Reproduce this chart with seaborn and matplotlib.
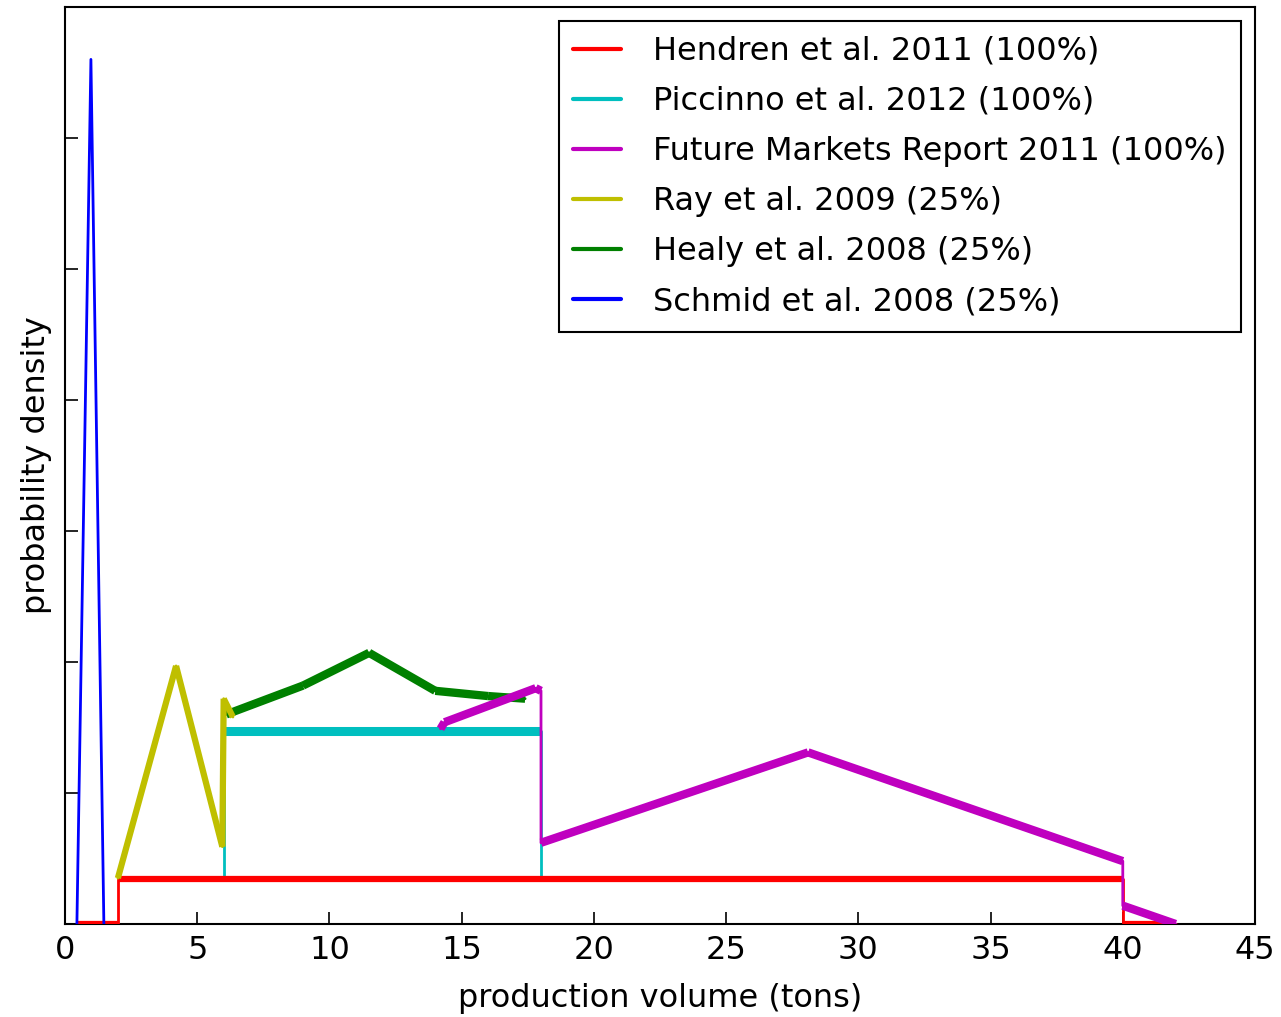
import numpy as np
import pandas as pd
import matplotlib
matplotlib.use("Agg")
import matplotlib.pyplot as plt
from matplotlib.lines import Line2D
import seaborn as sns

# ---------------- data ----------------
x_label = "production volume (tons)"
y_label = "probability density"
x_ticks = [0, 5, 10, 15, 20, 25, 30, 35, 40, 45]
y_ticks = [0.0, 0.05, 0.10, 0.15, 0.20, 0.25, 0.30, 0.35]

series_names = [
    "Hendren et al. 2011 (100%)",
    "Piccinno et al. 2012 (100%)",
    "Future Markets Report 2011 (100%)",
    "Ray et al. 2009 (25%)",
    "Healy et al. 2008 (25%)",
    "Schmid et al. 2008 (25%)",
]
series_colors = ["#ff0000", "#00bfbf", "#bf00bf", "#bfbf00", "#008000", "#0000ff"]

hendren_x = [0.45, 2.0, 2.0, 40.0, 40.0, 42.0]
hendren_y = [0.0, 0.0, 0.0172, 0.0172, 0.0, 0.0]

piccinno_x = [6.0, 6.0, 18.0, 18.0]
piccinno_y = [0.0172, 0.0735, 0.0735, 0.0172]

future_x = [14.2, 14.35, 17.8, 18.0, 18.0, 28.1, 40.0, 40.0, 42.0]
future_y = [0.0745, 0.0770, 0.0900, 0.0890, 0.0310, 0.0655, 0.0240, 0.0070, 0.0]

ray_x = [2.0, 4.2, 5.95, 6.0, 6.35]
ray_y = [0.0175, 0.0985, 0.0295, 0.0860, 0.0790]

healy_x = [6.1, 9.0, 11.5, 14.0, 16.0, 17.4]
healy_y = [0.0800, 0.0910, 0.1035, 0.0890, 0.0870, 0.0860]

schmid_x = [0.45, 0.98, 1.47]
schmid_y = [0.0, 0.330, 0.0]

all_x = [hendren_x, piccinno_x, future_x, ray_x, healy_x, schmid_x]
all_y = [hendren_y, piccinno_y, future_y, ray_y, healy_y, schmid_y]
thick_lw = [4.5, 6.5, 6.0, 4.5, 6.0, 2.0]
z_order = [3, 2, 4, 5, 3.5, 6]

# ---------------- figure ----------------
sns.set_style("white")
plt.rcParams["font.family"] = ["DejaVu Sans"]
plt.rcParams["text.color"] = "black"
plt.rcParams["axes.labelcolor"] = "black"
plt.rcParams["xtick.color"] = "black"
plt.rcParams["ytick.color"] = "black"
fig = plt.figure(figsize=(12.81, 10.17), dpi=100)
ax = fig.add_axes([65 / 1281, 1 - 924 / 1017, (1255 - 65) / 1281, (924 - 7) / 1017])


def segments(xs, ys):
    """Split a path into non-vertical segments (unit ids) for thick drawing."""
    rows = []
    seg = 0
    for i in range(len(xs) - 1):
        if xs[i + 1] == xs[i]:
            continue
        rows.append((xs[i], ys[i], seg))
        rows.append((xs[i + 1], ys[i + 1], seg))
        seg += 1
    return pd.DataFrame(rows, columns=["x", "y", "seg"])


for xs, ys, col, lw, z in zip(all_x, all_y, series_colors, thick_lw, z_order):
    full = pd.DataFrame({"x": xs, "y": ys})
    sns.lineplot(data=full, x="x", y="y", estimator=None, sort=False,
                 color=col, lw=min(lw, 2.0), ax=ax, zorder=z)
    if lw > 2:
        segdf = segments(xs, ys)
        sns.lineplot(data=segdf, x="x", y="y", units="seg", estimator=None,
                     sort=False, color=col, lw=lw, ax=ax, zorder=z,
                     solid_capstyle="butt")

ax.set_xlim(0, 45)
ax.set_ylim(0, 0.35)
ax.set_xticks(x_ticks)
ax.set_yticks(y_ticks)
ax.set_yticklabels([])
ax.tick_params(axis="both", direction="in", length=9, width=1.2, color="black",
               labelcolor="black", labelsize=23, bottom=True, left=True,
               top=False, right=False)
ax.tick_params(axis="x", pad=8)
ax.set_xlabel(x_label, fontsize=23, labelpad=12, color="black")
ax.set_ylabel(y_label, fontsize=23, labelpad=6, color="black")
for sp in ax.spines.values():
    sp.set_color("black")
    sp.set_linewidth(1.5)

handles = [Line2D([0], [0], color=c, lw=3) for c in series_colors]
leg = ax.legend(handles, series_names, loc="upper right", fontsize=23,
                frameon=True, fancybox=False, framealpha=1, edgecolor="black",
                handlelength=1.5, handletextpad=1.0, labelspacing=0.6,
                borderpad=0.45, borderaxespad=0.45)
leg.get_frame().set_linewidth(1.5)
for t in leg.get_texts():
    t.set_color("black")

fig.savefig("out.png", dpi=100, facecolor="white")
